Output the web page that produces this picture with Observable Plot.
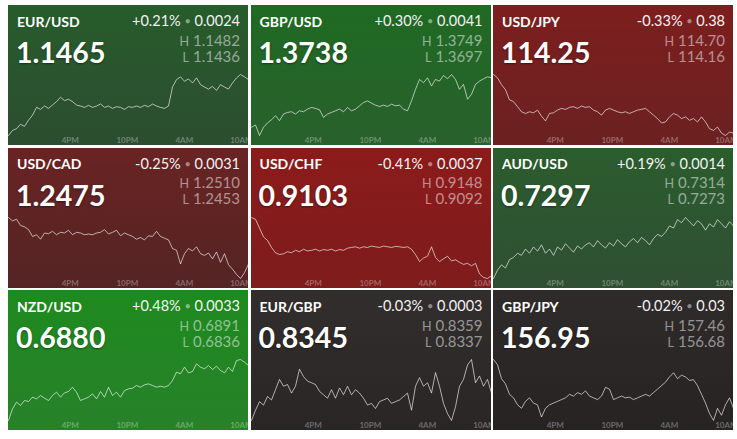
<!DOCTYPE html>
<html>
<head>
<meta charset="utf-8">
<script src="https://cdn.jsdelivr.net/npm/d3@7"></script>
<script src="https://cdn.jsdelivr.net/npm/@observablehq/plot@0.6"></script>
<style>
  html, body { margin: 0; padding: 0; background: #ffffff; }
  body { width: 737px; height: 439px; position: relative; overflow: hidden; font-family: Lato, "Noto Sans", sans-serif; }
  #grid { position: absolute; left: 8px; top: 5px; display: grid; grid-template-columns: repeat(3, 240px); grid-auto-rows: 140px; column-gap: 2.5px; row-gap: 2.5px; }
  .tile { position: relative; overflow: hidden; width: 240px; height: 140px; }
  .tile svg { position: absolute; left: 0; top: 0; }
  .txt { position: absolute; line-height: 1; white-space: nowrap; }
  .pair { left: 9px; top: 9.6px; font-size: 14px; font-weight: 700; color: #fff; }
  .chg { right: 8px; top: 9.3px; font-size: 14.5px; color: #f2f2f2; }
  .dot { color: rgba(255,255,255,0.45); font-size: 11px; position: relative; top: -1px; }
  .px { left: 8px; top: 33px; font-size: 28.5px; font-weight: 700; color: #fff; text-shadow: 0 1px 2px rgba(0,0,0,0.45); }
  .hl { right: 8px; font-size: 15px; height: 15px; color: rgba(255,255,255,0.5); }
  .hl .k { font-size: 12.5px; margin-right: 4px; }
  .h { top: 27.5px; }
  .l { top: 43.5px; }
</style>
</head>
<body>
<div id="grid"></div>
<script>
// ---- data ----
const pairs = ["EUR/USD", "GBP/USD", "USD/JPY", "USD/CAD", "USD/CHF", "AUD/USD", "NZD/USD", "EUR/GBP", "GBP/JPY"];
const prices = ["1.1465", "1.3738", "114.25", "1.2475", "0.9103", "0.7297", "0.6880", "0.8345", "156.95"];
const changePct = ["+0.21%", "+0.30%", "-0.33%", "-0.25%", "-0.41%", "+0.19%", "+0.48%", "-0.03%", "-0.02%"];
const changeAbs = ["0.0024", "0.0041", "0.38", "0.0031", "0.0037", "0.0014", "0.0033", "0.0003", "0.03"];
const highs = ["1.1482", "1.3749", "114.70", "1.2510", "0.9148", "0.7314", "0.6891", "0.8359", "157.46"];
const lows = ["1.1436", "1.3697", "114.16", "1.2453", "0.9092", "0.7273", "0.6836", "0.8337", "156.68"];
const tickLabels = ["4PM", "10PM", "4AM", "10AM"];
const tickHours = [16, 22, 28, 34]; // hours after midnight of day 1
const startHour = 9.5;   // 9:30 AM
const endHour = 34.75;   // 10:45 AM next day

const eurusd = [1.1436,1.1439,1.1440,1.14426,1.14414,1.1445,1.1448,1.14526,1.14514,1.14534,
  1.1452,1.1454,1.1456,1.14586,1.14566,1.14574,1.1456,1.1454,1.14534,1.14526,
  1.14538,1.14526,1.14534,1.14546,1.14526,1.14534,1.1452,1.1453,1.14526,1.14514,
  1.1453,1.14526,1.14534,1.14526,1.14538,1.1453,1.14546,1.14534,1.14526,1.1452,
  1.14534,1.14646,1.1469,1.14706,1.1468,1.14694,1.1467,1.1470,1.1466,1.14646,
  1.14634,1.1465,1.14626,1.1466,1.14646,1.14634,1.1467,1.1470,1.1472,1.14706,
  1.1469];
const gbpusd = [1.3695,1.36964,1.3690,1.3695,1.36976,1.36996,1.3702,1.3699,1.3703,1.3704,
  1.37044,1.3703,1.3705,1.37044,1.3706,1.3707,1.37064,1.37056,1.3701,1.3703,
  1.3704,1.3705,1.3706,1.37044,1.3707,1.3705,1.3706,1.3708,1.3710,1.3711,
  1.37096,1.37084,1.37076,1.37084,1.37076,1.3709,1.3708,1.37084,1.3706,1.3705,
  1.3711,1.3718,1.3724,1.3722,1.3725,1.3720,1.3724,1.3723,1.37264,1.37244,
  1.3727,1.3724,1.3718,1.3721,1.3712,1.3715,1.3721,1.3723,1.37244,1.37256,
  1.3725];
const usdjpy = [114.70,114.67,114.61,114.565,114.475,114.46,114.415,114.37,114.355,114.37,
  114.361,114.385,114.331,114.289,114.355,114.361,114.385,114.40,114.391,114.409,
  114.415,114.40,114.421,114.409,114.415,114.385,114.37,114.34,114.385,114.40,
  114.385,114.37,114.361,114.37,114.355,114.37,114.385,114.391,114.40,114.37,
  114.34,114.31,114.271,114.28,114.325,114.355,114.34,114.31,114.325,114.295,
  114.31,114.28,114.325,114.28,114.22,114.205,114.235,114.181,114.16,114.19,
  114.181];
const usdcad = [1.24884,1.24864,1.24874,1.24838,1.2483,1.24814,1.24774,1.24784,1.24758,1.24794,
  1.2479,1.24804,1.24784,1.24798,1.24794,1.2481,1.24784,1.24798,1.24794,1.24784,
  1.24788,1.24784,1.24794,1.24798,1.24814,1.24788,1.24798,1.2481,1.24778,1.24794,
  1.24784,1.24774,1.24758,1.24768,1.24754,1.24778,1.24774,1.24804,1.24774,1.24764,
  1.24754,1.24704,1.24694,1.24614,1.24674,1.24704,1.2469,1.24714,1.24674,1.24664,
  1.24678,1.24644,1.24684,1.24624,1.24674,1.2461,1.24584,1.24554,1.2453,1.24564,
  1.24614];
const usdchf = [0.91439,0.91424,0.91349,0.91274,0.91244,0.91184,0.91139,0.91124,0.9113,0.91148,
  0.91139,0.9116,0.91148,0.91169,0.91154,0.9116,0.91169,0.91154,0.91166,0.9116,
  0.91169,0.91154,0.91166,0.9116,0.91178,0.91184,0.9119,0.91178,0.9119,0.91184,
  0.91196,0.9119,0.91184,0.91196,0.9119,0.91184,0.91193,0.9119,0.91184,0.9119,
  0.91169,0.91124,0.91064,0.91094,0.91109,0.9119,0.911,0.91064,0.91088,0.91109,
  0.9107,0.91079,0.91058,0.9104,0.91049,0.91028,0.91049,0.90959,0.90929,0.9092,
  0.90944];
const audusd = [0.7274,0.7278,0.72805,0.7279,0.7283,0.7284,0.7286,0.7285,0.7288,0.7286,
  0.7289,0.7287,0.7290,0.7286,0.7288,0.7285,0.7289,0.72875,0.72905,0.72885,
  0.72865,0.72895,0.7288,0.7290,0.7291,0.7289,0.7292,0.7290,0.72885,0.7291,
  0.72895,0.72925,0.72905,0.7289,0.72915,0.7293,0.7291,0.72935,0.7292,0.7290,
  0.7293,0.7295,0.7294,0.7296,0.7299,0.7298,0.7302,0.73005,0.7303,0.7301,
  0.7299,0.73015,0.7300,0.7297,0.7300,0.72985,0.7302,0.7300,0.7298,0.7301,
  0.7299];
const nzdusd = [0.6836,0.68465,0.68525,0.68495,0.6854,0.68531,0.6857,0.68555,0.68585,0.68561,
  0.6854,0.68585,0.68615,0.6857,0.68609,0.68621,0.6866,0.68615,0.6854,0.68555,
  0.6857,0.686,0.68555,0.68621,0.6857,0.6866,0.68585,0.68615,0.6857,0.6863,
  0.68645,0.68651,0.68675,0.6866,0.68681,0.6869,0.68675,0.6866,0.68669,0.6866,
  0.68675,0.6872,0.68795,0.6878,0.6884,0.68789,0.68801,0.6887,0.6884,0.68825,
  0.68855,0.68819,0.68849,0.6881,0.68789,0.6884,0.68801,0.689,0.68909,0.68885,
  0.68855];
const eurgbp = [0.8337,0.83400,0.83425,0.83415,0.83440,0.83430,0.83460,0.83490,0.83470,0.83475,
  0.83450,0.83470,0.83520,0.83498,0.83485,0.83480,0.83475,0.83455,0.83445,0.83435,
  0.83460,0.83435,0.83465,0.83445,0.83470,0.83445,0.83460,0.83450,0.83435,0.83415,
  0.83420,0.83405,0.83425,0.83430,0.83435,0.83420,0.83425,0.83430,0.83440,0.83450,
  0.83400,0.83470,0.83495,0.83470,0.83480,0.83450,0.83510,0.83470,0.83420,0.83390,
  0.8337,0.83410,0.83470,0.83490,0.83532,0.83548,0.83480,0.83500,0.83470,0.83490,
  0.83450];
const gbpjpy = [157.38,157.32,157.16,157.10,156.98,156.94,156.86,156.82,156.90,156.94,
  156.88,156.86,156.72,156.82,156.86,156.88,156.90,156.92,156.94,156.98,
  156.96,157.00,156.98,157.02,156.96,156.94,156.92,156.96,157.06,157.04,
  156.92,156.94,156.96,156.94,156.948,156.92,156.94,156.96,156.98,156.96,
  157.00,157.04,157.08,157.12,157.18,157.228,157.16,157.20,157.18,157.14,
  157.148,157.08,156.98,156.88,156.76,156.68,156.82,156.74,156.86,156.94,
  156.82];

const series = [eurusd, gbpusd, usdjpy, usdcad, usdchf, audusd, nzdusd, eurgbp, gbpjpy];

// ---- styles (per tile background gradients) ----
const backgrounds = [
  ["#275c2b", "#2c4d30"],
  ["#1f6a23", "#29602c"],
  ["#7d1e1e", "#6b2121"],
  ["#6a2323", "#542424"],
  ["#8c1b1b", "#7e1c1c"],
  ["#2b5d2d", "#2f4f33"],
  ["#1e8a1e", "#27812a"],
  ["#332e2e", "#2a2626"],
  ["#302b2b", "#272323"]
];

// ---- build ----
const HOUR = 3600 * 1000;
const base = Date.UTC(2021, 10, 22, 0, 0);
const t0 = new Date(base + startHour * HOUR);
const t1 = new Date(base + endHour * HOUR);
const tickTimes = tickHours.map(h => new Date(base + h * HOUR));
const labelFor = d => tickLabels[tickTimes.findIndex(t => +t === +d)];

const grid = document.getElementById("grid");

pairs.forEach((pair, i) => {
  const vals = series[i];
  const n = vals.length;
  const data = vals.map((v, j) => ({t: new Date(+t0 + (j / (n - 1)) * (t1 - t0)), v}));

  const tile = document.createElement("div");
  tile.className = "tile";
  tile.style.background = `linear-gradient(to bottom, ${backgrounds[i][0]}, ${backgrounds[i][1]})`;

  const chart = Plot.plot({
    width: 240,
    height: 140,
    marginTop: 69,
    marginBottom: 10,
    marginLeft: 0,
    marginRight: 0,
    style: {
      background: "transparent",
      color: "rgba(255,255,255,0.32)",
      fontSize: "8px",
      fontWeight: "700",
      fontFamily: "Lato, sans-serif",
      overflow: "hidden"
    },
    x: {type: "utc", domain: [t0, t1], ticks: tickTimes, tickFormat: labelFor, tickSize: 0, tickPadding: 2, label: null},
    y: {axis: null},
    marks: [
      Plot.line(data, {x: "t", y: "v", stroke: "rgba(255,255,255,0.62)", strokeWidth: 1})
    ]
  });
  tile.appendChild(chart);

  const mk = (cls, html) => {
    const d = document.createElement("div");
    d.className = "txt " + cls;
    d.innerHTML = html;
    tile.appendChild(d);
  };
  mk("pair", pair);
  mk("chg", `${changePct[i]} <span class="dot">•</span> ${changeAbs[i]}`);
  mk("px", prices[i]);
  mk("hl h", `<span class="k">H</span>${highs[i]}`);
  mk("hl l", `<span class="k">L</span>${lows[i]}`);

  grid.appendChild(tile);
});
</script>
</body>
</html>
